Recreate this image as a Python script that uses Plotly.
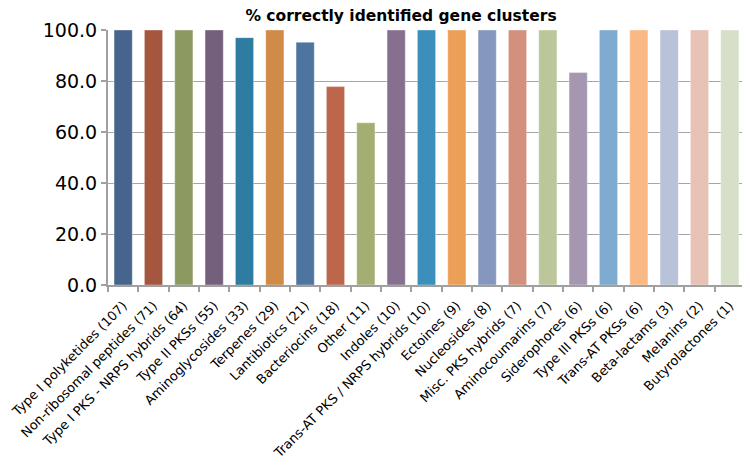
import plotly.graph_objects as go

categories = [
    "Type I polyketides (107)", "Non-ribosomal peptides (71)", "Type I PKS - NRPS hybrids (64)",
    "Type II PKSs (55)", "Aminoglycosides (33)", "Terpenes (29)", "Lantibiotics (21)",
    "Bacteriocins (18)", "Other (11)", "Indoles (10)", "Trans-AT PKS / NRPS hybrids (10)",
    "Ectoines (9)", "Nucleosides (8)", "Misc. PKS hybrids (7)", "Aminocoumarins (7)",
    "Siderophores (6)", "Type III PKSs (6)", "Trans-AT PKSs (6)", "Beta-lactams (3)",
    "Melanins (2)", "Butyrolactones (1)",
]
values = [100.0, 100.0, 100.0, 100.0, 97.0, 100.0, 95.2, 77.8, 63.6, 100.0, 100.0,
          100.0, 100.0, 100.0, 100.0, 83.3, 100.0, 100.0, 100.0, 100.0, 100.0]
colors = ["#46648C", "#A5563F", "#8C9A62", "#745F7C", "#2E7CA2", "#CF8B47", "#4E74A0",
          "#BC664C", "#A3AF72", "#87708F", "#3C8EBB", "#EC9F56", "#8597BC", "#D3917D",
          "#BBC79B", "#A497AF", "#7EABCF", "#F9B984", "#B8C2D9", "#E6C3B4", "#D6DFC7"]
y_ticks = [0, 20, 40, 60, 80, 100]

W, H = 742, 460  # page body has an 8px margin

fig = go.Figure(go.Bar(
    x=categories, y=values,
    marker=dict(color=colors, line=dict(width=0.6, color="rgba(255,255,255,0.6)")),
    hoverinfo="x+y",
))

fig.update_layout(
    width=W, height=H,
    margin=dict(l=100, r=5, t=22, b=183),
    paper_bgcolor="white", plot_bgcolor="white",
    bargap=0.4,
    showlegend=False,
    title=dict(text="<b>% correctly identified gene clusters</b>",
               x=393/W, xanchor="center", xref="container",
               y=1 - 2/H, yanchor="top", yref="container", pad=dict(t=0, b=0),
               font=dict(family="DejaVu Sans", size=15.5, color="#000000")),
)
fig.update_xaxes(
    tickangle=-45, tickson="boundaries", ticks="outside", ticklen=5,
    tickcolor="#A0A0A0", tickwidth=1.5,
    showline=True, linecolor="#A0A0A0", linewidth=2,
    showgrid=False, automargin=False, ticklabelstandoff=6,
    tickfont=dict(family="DejaVu Sans", size=13, color="#000000"),
)
fig.update_yaxes(
    range=[0, 100], tickvals=y_ticks, tickformat=".1f",
    ticks="outside", ticklen=5, tickcolor="#A0A0A0", tickwidth=1.5,
    showline=True, linecolor="#A0A0A0", linewidth=2,
    showgrid=True, gridcolor="#A6A6A6", gridwidth=1,
    zeroline=False, automargin=False,
    tickfont=dict(family="DejaVu Sans", size=19, color="#000000"),
)

fig.write_html("out.html")
